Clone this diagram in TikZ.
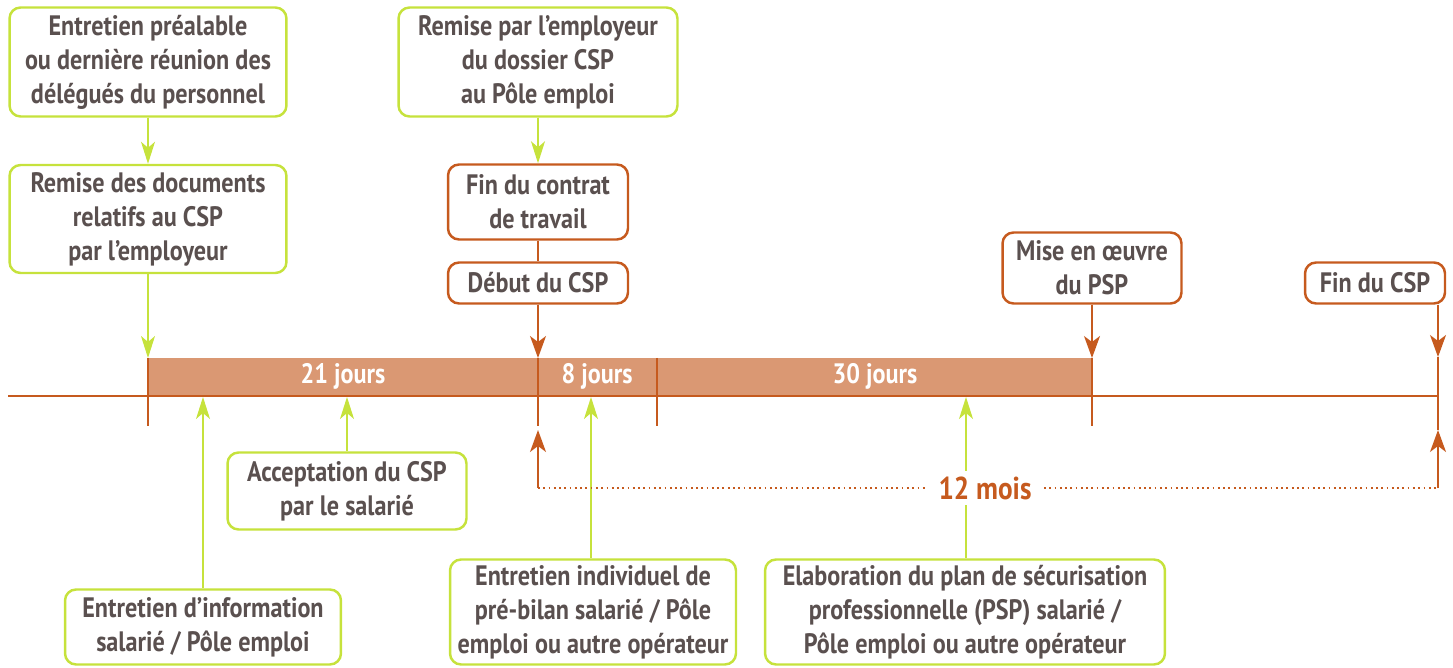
\documentclass[tikz,border=0pt]{standalone}
\usepackage{fontspec}
\newfontfamily\diagfont{PT Sans}[FakeStretch=0.86]
\usetikzlibrary{arrows.meta}
\definecolor{limeline}{HTML}{C6E23C}
\definecolor{rustline}{HTML}{C65A1E}
\definecolor{barfill}{HTML}{DA9873}
\definecolor{textgray}{HTML}{5A504F}
\tikzstyle{greenbox} = [rectangle, rounded corners=0.22cm,
draw=limeline,
line width=1.4pt,
fill=white,
align=center,
text=textgray,
inner sep=0pt]
\tikzstyle{orangebox} = [rectangle, rounded corners=0.22cm,
draw=rustline,
line width=1.4pt,
fill=white,
align=center,
text=textgray,
inner sep=0pt]
\tikzstyle{greenarrow} = [draw=limeline, fill=limeline, line width=0.8pt, ->,
>={Stealth[length=0.44cm, width=0.28cm, inset=0.12cm]}]
\tikzstyle{orangearrow} = [draw=rustline, fill=rustline, line width=0.8pt, ->,
>={Stealth[length=0.44cm, width=0.32cm, inset=0.12cm]}]
\tikzstyle{tick} = [draw=rustline, line width=1.3pt]

\begin{document}
\begin{tikzpicture}[x=0.02cm, y=-0.02cm,
  font=\diagfont\bfseries\fontsize{16}{19.3}\selectfont]

    \useasboundingbox (0,0) rectangle (1453,668);

    % time bar
    \fill[barfill] (148,358) rectangle (1092,396);
    \draw[tick] (8,396) -- (1438,396);
    \foreach \x in {148, 538, 657, 1092}
        \draw[tick] (\x,358) -- (\x,426);
    \draw[tick] (1438,357) -- (1438,430);
    \node (d21) [text=white] at (343,376) {21 jours};
    \node (d8) [text=white] at (597,376) {8 jours};
    \node (d30) [text=white] at (875,376) {30 jours};

    \coordinate (t1) at (148,358);
    \coordinate (t2) at (538,358);
    \coordinate (t3) at (1092,358);
    \coordinate (t4) at (1438,357);
    \coordinate (b1) at (203,397);
    \coordinate (b2) at (347,397);
    \coordinate (b3) at (591,397);
    \coordinate (b4) at (966,397);

    % top boxes
    \node (prealable) [greenbox, minimum width=5.54cm, minimum height=2.18cm] at (148,62)
        {Entretien préalable\\ou dernière réunion des\\délégués du personnel};
    \node (remise) [greenbox, minimum width=5.54cm, minimum height=2.16cm] at (148,219)
        {Remise des documents\\relatifs au CSP\\par l’employeur};
    \node (dossier) [greenbox, minimum width=5.58cm, minimum height=2.18cm] at (538,62)
        {Remise par l’employeur\\du dossier CSP\\au Pôle emploi};
    \node (fincontrat) [orangebox, minimum width=3.6cm, minimum height=1.5cm] at (538,202)
        {Fin du contrat\\de travail};
    \node (debut) [orangebox, minimum width=3.6cm, minimum height=0.82cm] at (538,283)
        {Début du CSP};
    \node (miseoeuvre) [orangebox, minimum width=3.58cm, minimum height=1.42cm] at (1092,268)
        {Mise en œuvre\\du PSP};
    \node (fincsp) [orangebox, minimum width=2.8cm, minimum height=0.82cm] at (1375,283)
        {Fin du CSP};

    \draw [greenarrow] (prealable) -- (remise);
    \draw [greenarrow] (remise) -- (t1);
    \draw [greenarrow] (dossier) -- (fincontrat);
    \draw [draw=rustline, line width=0.8pt] (fincontrat) -- (debut);
    \draw [orangearrow] (debut) -- (t2);
    \draw [orangearrow] (miseoeuvre) -- (t3);
    \draw [orangearrow] (fincsp.south -| t4) -- (t4);

    % bottom boxes
    \node (acceptation) [greenbox, minimum width=4.78cm, minimum height=1.54cm] at (347,491)
        {Acceptation du CSP\\par le salarié};
    \node (information) [greenbox, minimum width=5.52cm, minimum height=1.5cm] at (203,627)
        {Entretien d’information\\salarié / Pôle emploi};
    \node (prebilan) [greenbox, minimum width=5.72cm, minimum height=2.1cm] at (593,612)
        {Entretien individuel de\\pré-bilan salarié / Pôle\\emploi ou autre opérateur};
    \node (elaboration) [greenbox, minimum width=8cm, minimum height=2.1cm] at (965,612)
        {Elaboration du plan de sécurisation\\professionnelle (PSP) salarié /\\Pôle emploi ou autre opérateur};

    \draw [greenarrow] (information.north -| b1) -- (b1);
    \draw [greenarrow] (acceptation) -- (b2);
    \draw [greenarrow] (prebilan.north -| b3) -- (b3);
    \draw [greenarrow] (elaboration.north -| b4) -- (b4);

    % 12 months
    \coordinate (m1) at (538,488);
    \coordinate (m2) at (1438,488);
    \draw [draw=rustline, line width=1pt, dotted] (m1) -- (m2);
    \draw [orangearrow] (m1) -- (538,430);
    \draw [orangearrow] (m2) -- (1438,430);
    \node (mois) [fill=white, text=rustline, inner xsep=6pt,
        font=\diagfont\bfseries\fontsize{18}{20}\selectfont] at (985,488) {12 mois};

\end{tikzpicture}
\end{document}
